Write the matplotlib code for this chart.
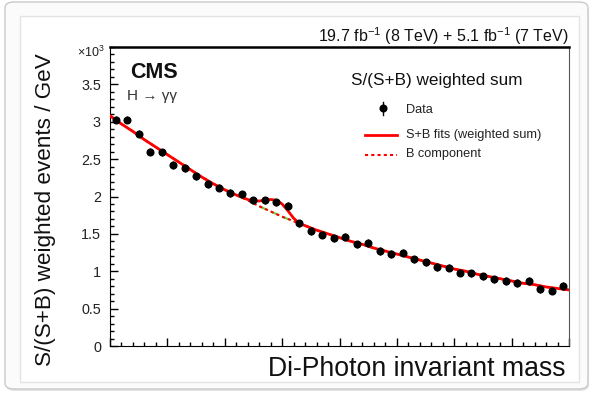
import numpy as np
import matplotlib
matplotlib.use("Agg")
from matplotlib import pyplot as plt
from matplotlib.patches import FancyBboxPatch
from matplotlib.lines import Line2D

plt.rcParams['font.family'] = ['Liberation Sans', 'DejaVu Sans']
plt.rcParams['mathtext.fontset'] = 'custom'
plt.rcParams['mathtext.rm'] = 'Liberation Sans'
plt.rcParams['mathtext.it'] = 'Liberation Sans:italic'
plt.rcParams['mathtext.bf'] = 'Liberation Sans:bold'

# data points (x10^3 weighted events / GeV), 2 GeV bins
data_mass = np.arange(101, 180, 2)
data_level = [3.03, 3.03, 2.84, 2.60, 2.59, 2.42, 2.38, 2.27, 2.17, 2.12,
              2.05, 2.03, 1.95, 1.95, 1.92, 1.87, 1.64, 1.54, 1.49, 1.44,
              1.46, 1.36, 1.38, 1.27, 1.23, 1.25, 1.16, 1.12, 1.06, 1.05,
              0.98, 0.97, 0.93, 0.89, 0.87, 0.84, 0.87, 0.76, 0.74, 0.80]
data_err = 0.05

# background component
bkg_mass = np.arange(100, 181, 2)
bkg_level = [3.08, 2.97, 2.87, 2.76, 2.66, 2.56, 2.46, 2.36, 2.26, 2.17,
             2.09, 2.02, 1.95, 1.87, 1.80, 1.73, 1.67, 1.61, 1.55, 1.50,
             1.45, 1.40, 1.36, 1.31, 1.27, 1.23, 1.19, 1.15, 1.11, 1.07,
             1.03, 1.00, 0.96, 0.93, 0.90, 0.87, 0.84, 0.82, 0.79, 0.77, 0.75]

# S+B curve in the signal region (1 GeV steps)
bump_mass = np.arange(122, 135, 1)
bump_level = [2.02, 1.99, 1.96, 1.94, 1.94, 1.95, 1.96, 1.95, 1.90, 1.81,
              1.71, 1.64, 1.61]

# S+B = background outside the bump region
bkg_arr = np.array(bkg_level)
sb_mass = np.concatenate([bkg_mass[bkg_mass < 122], bump_mass, bkg_mass[bkg_mass > 134]])
sb_level = np.concatenate([bkg_arr[bkg_mass < 122], bump_level, bkg_arr[bkg_mass > 134]])

W, H = 591, 397
fig = plt.figure(figsize=(W / 100, H / 100), dpi=100)

def fx(px):
    return px / W

def fy(py):
    return 1 - py / H

# card frame
shadow = FancyBboxPatch((fx(6), fy(391)), fx(583), fy(5) - fy(391),
                        boxstyle="round,pad=0,rounding_size=0.015",
                        transform=fig.transFigure, fc='#e4e4e4', ec='none', zorder=-3)
outer = FancyBboxPatch((fx(5), fy(389)), fx(583), fy(2) - fy(389),
                       boxstyle="round,pad=0,rounding_size=0.015",
                       transform=fig.transFigure, fc='#fbfbfb', ec='#c9c9c9', lw=1, zorder=-2)
inner = plt.Rectangle((fx(20), fy(382)), fx(559), fy(16) - fy(382),
                      transform=fig.transFigure, fc='white', ec='#e3e3e3', lw=1, zorder=-1)
fig.patches.extend([shadow, outer, inner])

ax = fig.add_axes([fx(110), fy(346), fx(459), fy(47) - fy(346)])
ax.patch.set_alpha(0)

ax.plot(bkg_mass, bkg_level, color='#66cc33', lw=1.5, ls=(0, (4, 2)), zorder=2)
ax.plot(bkg_mass, bkg_level, color='red', lw=1.5, ls=(0, (1.5, 1.5)), zorder=3)
ax.plot(sb_mass, sb_level, color='red', lw=2, zorder=4)
ax.errorbar(data_mass, data_level, yerr=data_err, fmt='o', color='black',
            ms=4.8, elinewidth=1, capsize=0, zorder=5)

ax.set_xlim(100, 180)
ax.set_ylim(0, 4)
ax.set_xticks(np.arange(100, 181, 10))
ax.set_xticks(np.arange(100, 181, 2), minor=True)
ax.set_yticks(np.arange(0, 3.6, 0.5))
ax.set_yticklabels(['0', '0.5', '1', '1.5', '2', '2.5', '3', '3.5'])
ax.set_yticks(np.arange(0, 4.01, 0.1), minor=True)
ax.tick_params(axis='x', which='both', direction='in', labelbottom=False)
ax.tick_params(axis='x', which='major', length=5.5, width=1)
ax.tick_params(axis='x', which='minor', length=3, width=1)
ax.tick_params(axis='y', which='both', direction='in', labelsize=10.4,
               labelcolor='#222222', pad=6.5)
ax.tick_params(axis='y', which='major', length=5.5, width=1)
ax.tick_params(axis='y', which='minor', length=3, width=1)
ax.spines['top'].set_linewidth(1.8)
ax.spines['right'].set_color('#555555')

# texts
fig.text(fx(569), fy(42), r'19.7 fb$^{-1}$ (8 TeV) + 5.1 fb$^{-1}$ (7 TeV)',
         ha='right', va='baseline', fontsize=11.5, color='#111111')
fig.text(fx(105), fy(57), '×10$^{3}$', ha='right', va='baseline', fontsize=9, color='#222222')
fig.text(fx(130), fy(78), 'CMS', ha='left', va='baseline', fontsize=15.5,
         fontweight='bold', color='#111111')
fig.text(fx(127), fy(100), 'H → γγ', ha='left', va='baseline', fontsize=11, color='#333333')
fig.text(fx(46), fy(210), 'S/(S+B) weighted events / GeV', rotation=90,
         ha='center', va='center', fontsize=16.2, color='#111111')
fig.text(fx(566), fy(376), 'Di-Photon invariant mass', ha='right', va='baseline',
         fontsize=19.2, color='#111111')

# legend
fig.text(fx(351), fy(85.5), 'S/(S+B) weighted sum', ha='left', va='baseline',
         fontsize=12.3, color='#111111')
fig.lines.append(Line2D([fx(383), fx(383)], [fy(102), fy(114.5)], color='black', lw=1,
                        transform=fig.transFigure))
fig.lines.append(Line2D([fx(383)], [fy(108.3)], marker='o', ms=4.8, color='black',
                        transform=fig.transFigure))
fig.text(fx(406), fy(113.3), 'Data', ha='left', va='baseline', fontsize=9.2, color='#222222')
fig.lines.append(Line2D([fx(365), fx(397)], [fy(135), fy(135)], color='red', lw=2,
                        transform=fig.transFigure))
fig.text(fx(406), fy(138), 'S+B fits (weighted sum)', ha='left', va='baseline',
         fontsize=9.2, color='#222222')
fig.lines.append(Line2D([fx(365), fx(397)], [fy(155), fy(155)], color='red', lw=1.5,
                        ls=(0, (1.5, 1.5)), transform=fig.transFigure))
fig.text(fx(406), fy(157.5), 'B component', ha='left', va='baseline',
         fontsize=9.2, color='#222222')

fig.savefig('out.png', dpi=100)
